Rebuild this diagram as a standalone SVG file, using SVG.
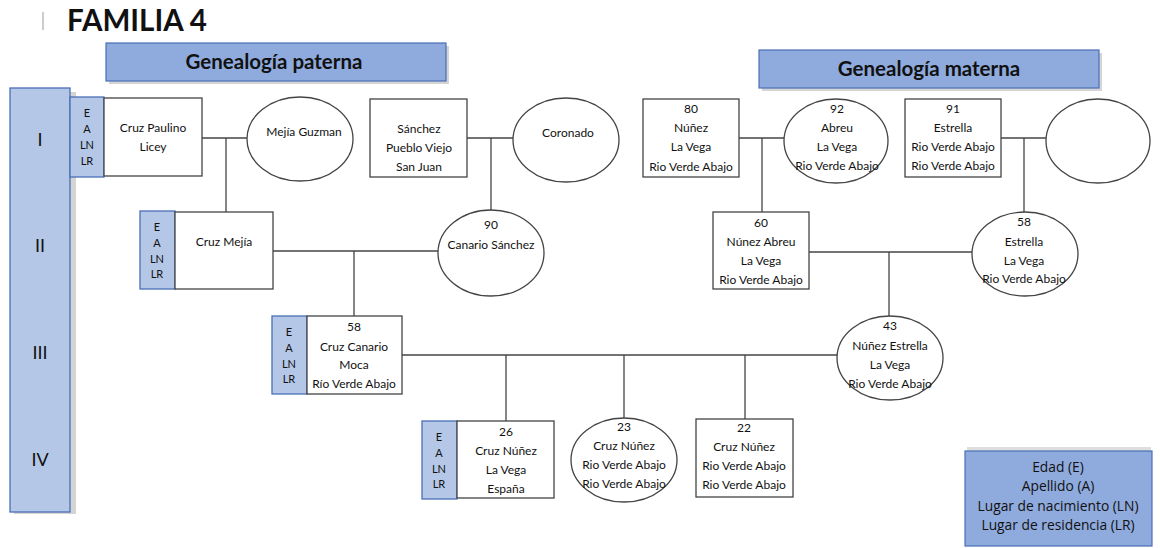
<svg xmlns="http://www.w3.org/2000/svg" width="1160" height="548" viewBox="0 0 1160 548">
<style>
text{font-family:Lato,"Open Sans","Liberation Sans",sans-serif;fill:#111}
.t{font-size:12px;text-anchor:middle}
.s{font-size:11px;text-anchor:middle}
.g{font-size:18px;text-anchor:middle}
.h{font-size:20.5px;font-weight:bold;text-anchor:middle}
.lg{font-size:13.8px;text-anchor:middle;font-family:"Open Sans","Liberation Sans",sans-serif}
.n{fill:#fff;stroke:#444;stroke-width:1.3}
.e{fill:#b4c7e7;stroke:#4a6fb5;stroke-width:1.3}
.hd{fill:#8faadc;stroke:#4a6fb5;stroke-width:1.2}
.sh{fill:#d4d4d4}
#connectors line{stroke:#444;stroke-width:1.3}
</style>
<rect width="1160" height="548" fill="#fff"/>
<line x1="43" y1="12" x2="43" y2="30" stroke="#bbb" stroke-width="1.5"/>
<text x="67" y="31" style="font-size:29.5px;font-weight:bold">FAMILIA 4</text>

<g id="hdr-paterna">
<rect x="109" y="46" width="340" height="38" class="sh"/>
<rect x="106" y="43" width="340" height="38" class="hd"/>
<text x="274" y="69" class="h">Genealogía paterna</text>
</g>
<g id="hdr-materna">
<rect x="762" y="53" width="340" height="38" class="sh"/>
<rect x="759" y="50" width="340" height="38" class="hd"/>
<text x="929" y="76" class="h">Genealogía materna</text>
</g>

<g id="generations">
<rect x="14" y="92" width="62" height="422" class="sh"/>
<rect x="10" y="88" width="60" height="424" class="e"/>
<text x="40" y="146" class="g">I</text>
<text x="40" y="252" class="g">II</text>
<text x="40" y="359" class="g">III</text>
<text x="40" y="466" class="g">IV</text>
</g>

<g id="connectors">
<line x1="202" y1="138" x2="247" y2="138"/>
<line x1="226" y1="138" x2="226" y2="212"/>
<line x1="467" y1="138" x2="513" y2="138"/>
<line x1="491" y1="138" x2="491" y2="210"/>
<line x1="273" y1="251" x2="438" y2="251"/>
<line x1="354" y1="251" x2="354" y2="316"/>
<line x1="739" y1="138" x2="784" y2="138"/>
<line x1="762" y1="138" x2="762" y2="212"/>
<line x1="1001" y1="138" x2="1046" y2="138"/>
<line x1="1024" y1="138" x2="1024" y2="212"/>
<line x1="809" y1="252" x2="972" y2="252"/>
<line x1="889" y1="252" x2="889" y2="317"/>
<line x1="402" y1="355" x2="838" y2="355"/>
<line x1="506" y1="355" x2="506" y2="421"/>
<line x1="624" y1="355" x2="624" y2="418"/>
<line x1="745" y1="355" x2="745" y2="419"/>
</g>

<g id="cruz-paulino">
<rect x="70" y="97" width="34" height="80" class="e"/>
<text x="87" y="117" class="s">E</text><text x="87" y="133" class="s">A</text><text x="87" y="149" class="s">LN</text><text x="87" y="165" class="s">LR</text>
<rect x="104" y="98" width="98" height="78" class="n"/>
<text x="153" y="132" class="t">Cruz Paulino</text>
<text x="153" y="151" class="t">Licey</text>
</g>
<g id="mejia-guzman">
<ellipse cx="300" cy="139" rx="53" ry="42" class="n"/>
<text x="304" y="136" class="t">Mejía Guzman</text>
</g>
<g id="sanchez">
<rect x="370" y="99" width="97" height="78" class="n"/>
<text x="419" y="133" class="t">Sánchez</text>
<text x="419" y="152" class="t">Pueblo Viejo</text>
<text x="419" y="171" class="t">San Juan</text>
</g>
<g id="coronado">
<ellipse cx="566" cy="140" rx="53" ry="42" class="n"/>
<text x="568" y="137" class="t">Coronado</text>
</g>
<g id="nunez-80">
<rect x="643" y="99" width="96" height="78" class="n"/>
<text x="691" y="113" class="t">80</text>
<text x="691" y="132" class="t">Núñez</text>
<text x="691" y="151" class="t">La Vega</text>
<text x="691" y="171" class="t">Rio Verde Abajo</text>
</g>
<g id="abreu-92">
<ellipse cx="836" cy="141" rx="52" ry="42" class="n"/>
<text x="837" y="113" class="t">92</text>
<text x="837" y="132" class="t">Abreu</text>
<text x="837" y="151" class="t">La Vega</text>
<text x="837" y="170" class="t">Rio Verde Abajo</text>
</g>
<g id="estrella-91">
<rect x="905" y="99" width="96" height="78" class="n"/>
<text x="953" y="113" class="t">91</text>
<text x="953" y="132" class="t">Estrella</text>
<text x="953" y="151" class="t">Rio Verde Abajo</text>
<text x="953" y="170" class="t">Rio Verde Abajo</text>
</g>
<g id="unknown">
<ellipse cx="1098" cy="141" rx="52" ry="42" class="n"/>
</g>

<g id="cruz-mejia">
<rect x="140" y="211" width="35" height="78" class="e"/>
<text x="157" y="231" class="s">E</text><text x="157" y="247" class="s">A</text><text x="157" y="263" class="s">LN</text><text x="157" y="278" class="s">LR</text>
<rect x="175" y="212" width="98" height="77" class="n"/>
<text x="224" y="246" class="t">Cruz Mejía</text>
</g>
<g id="canario-sanchez">
<ellipse cx="491" cy="253" rx="53" ry="43" class="n"/>
<text x="491" y="229" class="t">90</text>
<text x="491" y="249" class="t">Canario Sánchez</text>
</g>
<g id="nunez-abreu">
<rect x="713" y="212" width="96" height="77" class="n"/>
<text x="761" y="227" class="t">60</text>
<text x="761" y="246" class="t">Núnez Abreu</text>
<text x="761" y="265" class="t">La Vega</text>
<text x="761" y="284" class="t">Rio Verde Abajo</text>
</g>
<g id="estrella-58">
<ellipse cx="1025" cy="254" rx="53" ry="42" class="n"/>
<text x="1024" y="226" class="t">58</text>
<text x="1024" y="246" class="t">Estrella</text>
<text x="1024" y="265" class="t">La Vega</text>
<text x="1024" y="283" class="t">Rio Verde Abajo</text>
</g>

<g id="cruz-canario">
<rect x="272" y="316" width="35" height="78" class="e"/>
<text x="289" y="336" class="s">E</text><text x="289" y="352" class="s">A</text><text x="289" y="368" class="s">LN</text><text x="289" y="383" class="s">LR</text>
<rect x="307" y="316" width="95" height="78" class="n"/>
<text x="354" y="331" class="t">58</text>
<text x="354" y="351" class="t">Cruz Canario</text>
<text x="354" y="369" class="t">Moca</text>
<text x="354" y="388" class="t">Río Verde Abajo</text>
</g>
<g id="nunez-estrella">
<ellipse cx="890" cy="358" rx="53" ry="42" class="n"/>
<text x="890" y="330" class="t">43</text>
<text x="890" y="350" class="t">Núñez  Estrella</text>
<text x="890" y="369" class="t">La Vega</text>
<text x="890" y="388" class="t">Rio Verde Abajo</text>
</g>

<g id="cruz-nunez-26">
<rect x="422" y="421" width="35" height="78" class="e"/>
<text x="439" y="441" class="s">E</text><text x="439" y="457" class="s">A</text><text x="439" y="473" class="s">LN</text><text x="439" y="488" class="s">LR</text>
<rect x="457" y="421" width="97" height="77" class="n"/>
<text x="506" y="436" class="t">26</text>
<text x="506" y="455" class="t">Cruz Núñez</text>
<text x="506" y="474" class="t">La Vega</text>
<text x="506" y="493" class="t">España</text>
</g>
<g id="cruz-nunez-23">
<ellipse cx="624" cy="460" rx="53" ry="42" class="n"/>
<text x="624" y="431" class="t">23</text>
<text x="624" y="450" class="t">Cruz Núñez</text>
<text x="624" y="469" class="t">Rio Verde Abajo</text>
<text x="624" y="488" class="t">Rio Verde Abajo</text>
</g>
<g id="cruz-nunez-22">
<rect x="696" y="419" width="97" height="78" class="n"/>
<text x="744" y="432" class="t">22</text>
<text x="744" y="451" class="t">Cruz Núñez</text>
<text x="744" y="470" class="t">Rio Verde Abajo</text>
<text x="744" y="489" class="t">Rio Verde Abajo</text>
</g>

<g id="legend">
<rect x="967" y="447" width="184" height="96" fill="#dedede"/>
<rect x="965" y="451" width="187" height="95" class="hd"/>
<text x="1058" y="472" class="lg">Edad (E)</text>
<text x="1058" y="491" class="lg">Apellido (A)</text>
<text x="1058" y="511" class="lg">Lugar de nacimiento (LN)</text>
<text x="1058" y="530" class="lg">Lugar de residencia (LR)</text>
</g>
</svg>
